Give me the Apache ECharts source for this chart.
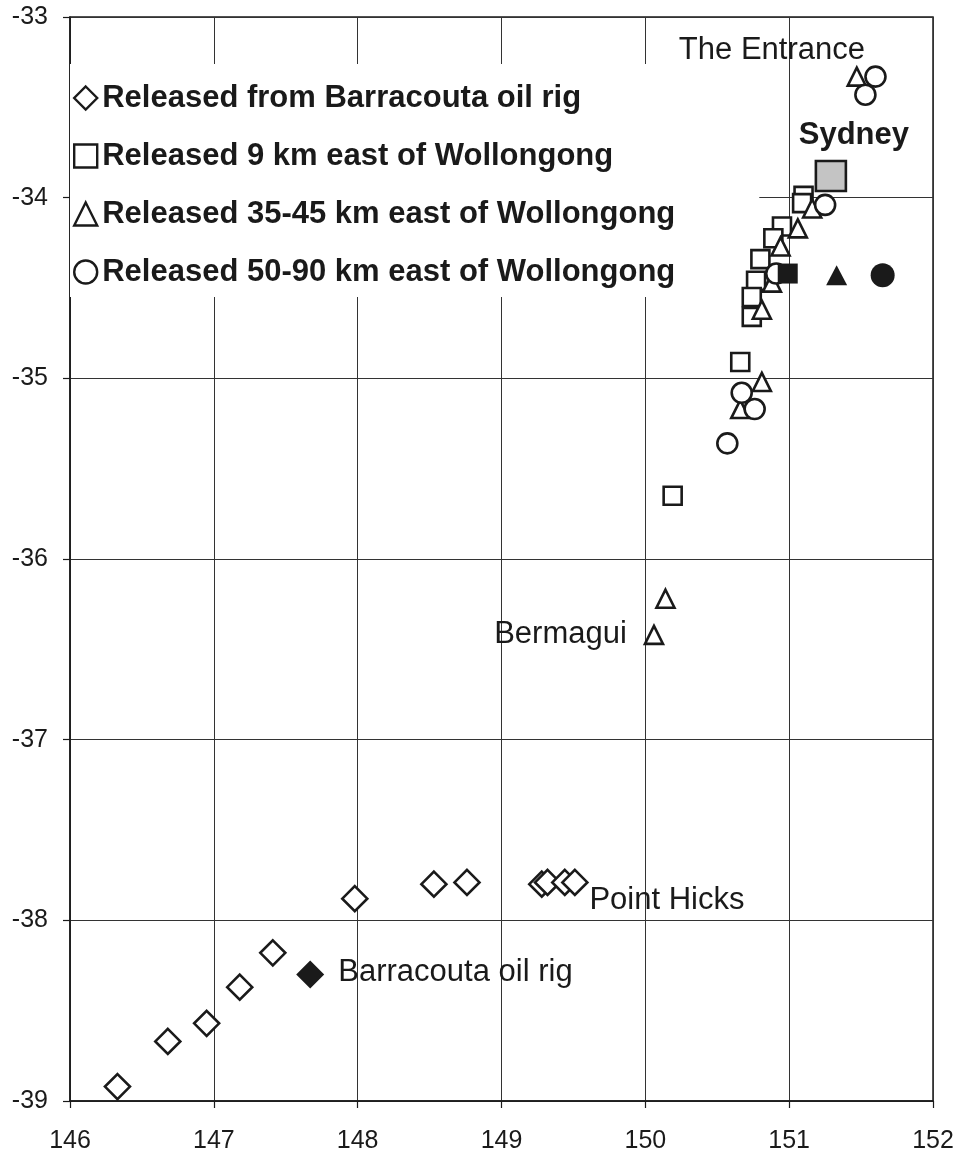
<!DOCTYPE html>
<html>
<head>
<meta charset="utf-8">
<script src="https://cdn.jsdelivr.net/npm/echarts@6/dist/echarts.min.js"></script>
<style>
html,body{margin:0;padding:0;background:#fff;}
#chart{width:959px;height:1156px;}
</style>
</head>
<body>
<div id="chart"></div>
<script>
// Tick labels (longitude / latitude)
var xTicks = [146, 147, 148, 149, 150, 151, 152];
var yTicks = [-39, -38, -37, -36, -35, -34, -33];

// Series names
var seriesNames = [
  'Released from Barracouta oil rig',
  'Released 9 km east of Wollongong',
  'Released 35-45 km east of Wollongong',
  'Released 50-90 km east of Wollongong'
];

// Recovery positions [longitude, latitude]
var barracoutaRecoveries = [
  [146.33, -38.92], [146.68, -38.67], [146.95, -38.57], [147.18, -38.37],
  [147.41, -38.18], [147.98, -37.88], [148.53, -37.80], [148.76, -37.79],
  [149.28, -37.80], [149.32, -37.79], [149.44, -37.79], [149.51, -37.79]
];
var wollongong9Recoveries = [
  [151.10, -33.99], [151.09, -34.03], [150.95, -34.16], [150.89, -34.225],
  [150.80, -34.34], [150.77, -34.46], [150.74, -34.55], [150.74, -34.66],
  [150.66, -34.91], [150.19, -35.65]
];
var wollongong35Recoveries = [
  [151.47, -33.33], [151.16, -34.06], [151.06, -34.17], [150.94, -34.27],
  [150.88, -34.47], [150.81, -34.62], [150.81, -35.02], [150.66, -35.17],
  [150.14, -36.22], [150.06, -36.42]
];
var wollongong50Recoveries = [
  [151.60, -33.33], [151.53, -33.43], [151.25, -34.04], [150.91, -34.42],
  [150.67, -35.08], [150.76, -35.17], [150.57, -35.36]
];

// Release points (filled markers)
var releaseRig = [[147.67, -38.30]];
var releaseWollongong9 = [[150.99, -34.42]];
var releaseWollongong35 = [[151.33, -34.43]];
var releaseWollongong50 = [[151.65, -34.43]];

// Sydney marker
var sydneyPoint = [[151.29, -33.88]];

// Place-name labels [longitude, latitude, name]
var placeLabels = [
  [150.88, -33.185, 'The Entrance'],
  [149.41, -36.42, 'Bermagui'],
  [150.15, -37.89, 'Point Hicks'],
  [148.68, -38.29, 'Barracouta oil rig']
];
var boldPlaceLabels = [
  [151.45, -33.655, 'Sydney']
];

var INK = '#1a1a1a';
var FONT = '"Liberation Sans", Arial, sans-serif';

function hollow(name, data, symbol, size) {
  return {
    name: name, type: 'scatter', data: data, symbol: symbol, symbolSize: size, z: 5,
    itemStyle: { color: '#ffffff', borderColor: INK, borderWidth: 2.6, opacity: 1 },
    emphasis: { disabled: true }
  };
}
function filled(data, symbol, size) {
  return {
    name: 'release', type: 'scatter', data: data, symbol: symbol, symbolSize: size, z: 6,
    itemStyle: { color: INK, borderColor: INK, borderWidth: 0, opacity: 1 },
    emphasis: { disabled: true }
  };
}
function labelSeries(data, weight) {
  return {
    name: 'places', type: 'scatter', symbolSize: 0, z: 7,
    itemStyle: { opacity: 1, color: INK },
    data: data.map(function (d) { return { value: [d[0], d[1]], name: d[2] }; }),
    label: {
      show: true, position: 'inside', formatter: '{b}', color: INK, opacity: 1,
      fontFamily: FONT, fontSize: 31, fontWeight: weight
    },
    emphasis: { disabled: true }
  };
}

var chart = echarts.init(document.getElementById('chart'), null, { renderer: 'canvas' });
chart.setOption({
  animation: false,
  backgroundColor: '#ffffff',
  grid: {
    left: 70, right: 26, top: 17, bottom: 55,
    show: true, borderColor: INK, borderWidth: 1.5, backgroundColor: 'transparent'
  },
  legend: {
    data: seriesNames,
    orient: 'vertical',
    left: 70, top: 64,
    padding: [17, 84, 8, 3],
    itemGap: 24,
    itemWidth: 23, itemHeight: 23,
    backgroundColor: '#ffffff',
    z: 3,
    selectedMode: false,
    itemStyle: { color: '#ffffff', borderColor: INK, borderWidth: 2.4 },
    textStyle: { color: INK, fontFamily: FONT, fontSize: 31, fontWeight: 'bold', lineHeight: 34 }
  },
  xAxis: {
    type: 'value', min: xTicks[0], max: xTicks[xTicks.length - 1], interval: 1,
    axisLine: { show: true, onZero: false, lineStyle: { color: INK, width: 1.5 } },
    axisTick: { show: true, inside: false, length: 7, lineStyle: { color: INK, width: 1.2 } },
    axisLabel: { color: INK, fontFamily: FONT, fontSize: 25, margin: 28 },
    splitLine: { show: true, lineStyle: { color: '#333333', width: 1 } }
  },
  yAxis: {
    type: 'value', min: yTicks[0], max: yTicks[yTicks.length - 1], interval: 1,
    axisLine: { show: true, onZero: false, lineStyle: { color: INK, width: 1.5 } },
    axisTick: { show: true, inside: false, length: 7, lineStyle: { color: INK, width: 1.2 } },
    axisLabel: { color: INK, fontFamily: FONT, fontSize: 25, margin: 22 },
    splitLine: { show: true, lineStyle: { color: '#333333', width: 1 } }
  },
  series: [
    hollow(seriesNames[0], barracoutaRecoveries, 'diamond', 25),
    hollow(seriesNames[1], wollongong9Recoveries, 'rect', 18),
    hollow(seriesNames[2], wollongong35Recoveries, 'triangle', [18, 18]),
    hollow(seriesNames[3], wollongong50Recoveries, 'circle', 20),
    filled(releaseRig, 'diamond', 28),
    filled(releaseWollongong9, 'rect', 20),
    filled(releaseWollongong35, 'triangle', [21, 20]),
    filled(releaseWollongong50, 'circle', 24),
    {
      name: 'Sydney', type: 'scatter', data: sydneyPoint, symbol: 'rect', symbolSize: 30, z: 6,
      itemStyle: { color: '#c4c4c4', borderColor: INK, borderWidth: 2.6, opacity: 1 },
      emphasis: { disabled: true }
    },
    labelSeries(placeLabels, 'normal'),
    labelSeries(boldPlaceLabels, 'bold')
  ]
});
</script>
</body>
</html>
